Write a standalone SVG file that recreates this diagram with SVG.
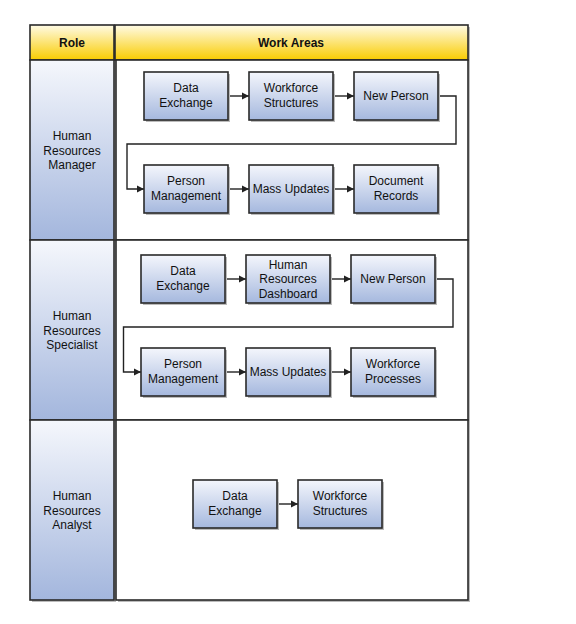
<svg xmlns="http://www.w3.org/2000/svg" width="576" height="624" viewBox="0 0 576 624">
<defs>
<linearGradient id="gHead" x1="0" y1="0" x2="0" y2="1">
<stop offset="0" stop-color="#fffbe6"/>
<stop offset="1" stop-color="#f9cc00"/>
</linearGradient>
<linearGradient id="gRole" x1="0" y1="0" x2="0" y2="1">
<stop offset="0" stop-color="#f5f7fc"/>
<stop offset="1" stop-color="#a3b6dd"/>
</linearGradient>
<linearGradient id="gNode" x1="0" y1="0" x2="0" y2="1">
<stop offset="0" stop-color="#f4f6fc"/>
<stop offset="1" stop-color="#a5b8de"/>
</linearGradient>
<marker id="arr" markerWidth="8" markerHeight="8" refX="7" refY="4" orient="auto" markerUnits="userSpaceOnUse">
<path d="M0,0.5 L7,4 L0,7.5 Z" fill="#222"/>
</marker>
</defs>
<style>
text{font-family:"Liberation Sans",Arial,sans-serif;font-size:12px;fill:#111;text-anchor:middle}
.hd{font-weight:bold}
.cell{stroke:#2a2a2a;stroke-width:1.6}
.shadow{fill:#bbb}
.node rect.box{fill:url(#gNode);stroke:#2a2a2a;stroke-width:1.6}
.role{fill:url(#gRole)}
.work{fill:#fff}
.head{fill:url(#gHead)}
.conn{fill:none;stroke:#222;stroke-width:1.4;marker-end:url(#arr)}
</style>
<rect width="576" height="624" fill="#fff"/>

<g id="header">
<rect class="shadow" x="32" y="27" width="438" height="35"/>
<rect class="cell head" x="30" y="25" width="84" height="35"/>
<rect class="cell head" x="115" y="25" width="353" height="35"/>
<text class="hd" x="72" y="46.5">Role</text>
<text class="hd" x="291" y="46.5">Work Areas</text>
</g>

<g id="row1">
<rect class="shadow" x="32" y="62" width="84" height="180"/>
<rect class="shadow" x="118" y="62" width="352" height="180"/>
<rect class="cell role" x="30" y="60" width="84" height="180"/>
<rect class="cell work" x="116" y="60" width="352" height="180"/>
<text x="72" y="139.5">Human</text>
<text x="72" y="154.5">Resources</text>
<text x="72" y="168.5">Manager</text>
</g>
<g id="row2">
<rect class="shadow" x="32" y="242" width="84" height="180"/>
<rect class="shadow" x="118" y="242" width="352" height="180"/>
<rect class="cell role" x="30" y="240" width="84" height="180"/>
<rect class="cell work" x="116" y="240" width="352" height="180"/>
<text x="72" y="319.5">Human</text>
<text x="72" y="334.5">Resources</text>
<text x="72" y="348.5">Specialist</text>
</g>
<g id="row3">
<rect class="shadow" x="32" y="422" width="84" height="180"/>
<rect class="shadow" x="118" y="422" width="352" height="180"/>
<rect class="cell role" x="30" y="420" width="84" height="180"/>
<rect class="cell work" x="116" y="420" width="352" height="180"/>
<text x="72" y="499.5">Human</text>
<text x="72" y="514.5">Resources</text>
<text x="72" y="528.5">Analyst</text>
</g>

<g id="connectors">
<path class="conn" d="M228.5,96 H249"/>
<path class="conn" d="M333.5,96 H354"/>
<path class="conn" d="M438.5,96 H456 V144 H127 V189 H144"/>
<path class="conn" d="M228.5,189 H249"/>
<path class="conn" d="M333.5,189 H354"/>
<path class="conn" d="M225.5,279 H246"/>
<path class="conn" d="M330.5,279 H351"/>
<path class="conn" d="M435.5,279 H453 V327 H123.5 V372 H141"/>
<path class="conn" d="M225.5,372 H246"/>
<path class="conn" d="M330.5,372 H351"/>
<path class="conn" d="M277.5,504 H298"/>
</g>

<g id="n1" class="node"><rect class="shadow" x="146" y="74" width="84" height="48"/><rect class="box" x="144" y="72" width="84" height="48"/><text x="186" y="92">Data</text><text x="186" y="107">Exchange</text></g>
<g id="n2" class="node"><rect class="shadow" x="251" y="74" width="84" height="48"/><rect class="box" x="249" y="72" width="84" height="48"/><text x="291" y="92">Workforce</text><text x="291" y="107">Structures</text></g>
<g id="n3" class="node"><rect class="shadow" x="356" y="74" width="84" height="48"/><rect class="box" x="354" y="72" width="84" height="48"/><text x="396" y="100">New Person</text></g>
<g id="n4" class="node"><rect class="shadow" x="146" y="167" width="84" height="48"/><rect class="box" x="144" y="165" width="84" height="48"/><text x="186" y="185">Person</text><text x="186" y="200">Management</text></g>
<g id="n5" class="node"><rect class="shadow" x="251" y="167" width="84" height="48"/><rect class="box" x="249" y="165" width="84" height="48"/><text x="291" y="193">Mass Updates</text></g>
<g id="n6" class="node"><rect class="shadow" x="356" y="167" width="84" height="48"/><rect class="box" x="354" y="165" width="84" height="48"/><text x="396" y="185">Document</text><text x="396" y="200">Records</text></g>

<g id="n7" class="node"><rect class="shadow" x="143" y="257" width="84" height="48"/><rect class="box" x="141" y="255" width="84" height="48"/><text x="183" y="275">Data</text><text x="183" y="290">Exchange</text></g>
<g id="n8" class="node"><rect class="shadow" x="248" y="257" width="84" height="48"/><rect class="box" x="246" y="255" width="84" height="48"/><text x="288" y="268.5">Human</text><text x="288" y="283">Resources</text><text x="288" y="297.5">Dashboard</text></g>
<g id="n9" class="node"><rect class="shadow" x="353" y="257" width="84" height="48"/><rect class="box" x="351" y="255" width="84" height="48"/><text x="393" y="283">New Person</text></g>
<g id="n10" class="node"><rect class="shadow" x="143" y="350" width="84" height="48"/><rect class="box" x="141" y="348" width="84" height="48"/><text x="183" y="368">Person</text><text x="183" y="383">Management</text></g>
<g id="n11" class="node"><rect class="shadow" x="248" y="350" width="84" height="48"/><rect class="box" x="246" y="348" width="84" height="48"/><text x="288" y="376">Mass Updates</text></g>
<g id="n12" class="node"><rect class="shadow" x="353" y="350" width="84" height="48"/><rect class="box" x="351" y="348" width="84" height="48"/><text x="393" y="368">Workforce</text><text x="393" y="383">Processes</text></g>

<g id="n13" class="node"><rect class="shadow" x="195" y="482" width="84" height="48"/><rect class="box" x="193" y="480" width="84" height="48"/><text x="235" y="500">Data</text><text x="235" y="515">Exchange</text></g>
<g id="n14" class="node"><rect class="shadow" x="300" y="482" width="84" height="48"/><rect class="box" x="298" y="480" width="84" height="48"/><text x="340" y="500">Workforce</text><text x="340" y="515">Structures</text></g>
</svg>
